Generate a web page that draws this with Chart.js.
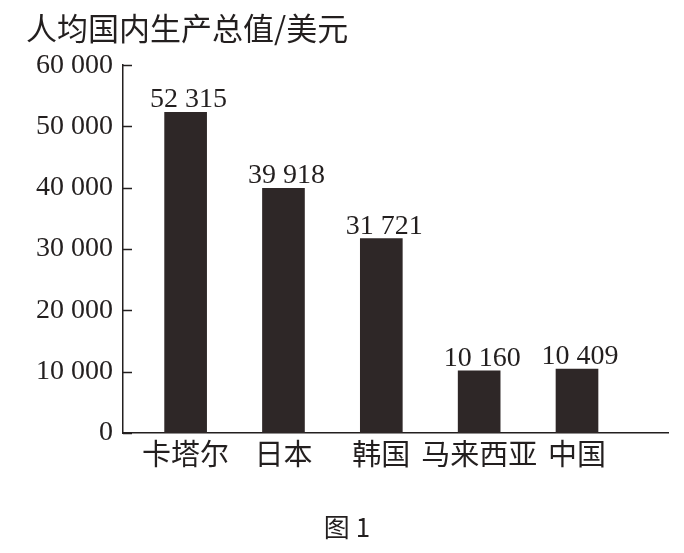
<!DOCTYPE html>
<html><head><meta charset="utf-8">
<script src="https://cdn.jsdelivr.net/npm/chart.js@4"></script>
<style>html,body{margin:0;padding:0;background:#fff;}#wrap{width:684px;height:553px;}</style>
</head><body><div id="wrap"><canvas id="c" width="684" height="553"></canvas></div>
<script>
const categories = ['卡塔尔', '日本', '韩国', '马来西亚', '中国'];
const gdpValues = [52315, 39918, 31721, 10160, 10409];
const yTicks = [0, 10000, 20000, 30000, 40000, 50000, 60000];
const titleText = '人均国内生产总值/美元';
const captionText = '图 1';

const INK = '#231f1f';
const serif = '"Liberation Serif", "DejaVu Serif", serif';
const cjk = '"Noto Sans CJK SC", sans-serif';
const fmt = v => String(v).replace(/\B(?=(\d{3})+(?!\d))/g, ' ');

const innerTicks = {
  id: 'innerTicks',
  afterDraw(chart) {
    const y = chart.scales.y, ctx = chart.ctx;
    ctx.save();
    ctx.strokeStyle = INK; ctx.lineWidth = 1.5;
    yTicks.forEach(t => {
      const py = Math.round(y.getPixelForValue(t)) + 0.5;
      ctx.beginPath(); ctx.moveTo(y.right, py); ctx.lineTo(y.right + 9, py); ctx.stroke();
    });
    ctx.restore();
  }
};
const valueLabels = {
  id: 'valueLabels',
  afterDatasetsDraw(chart) {
    const ctx = chart.ctx, meta = chart.getDatasetMeta(0);
    ctx.save();
    ctx.fillStyle = INK; ctx.font = '28px ' + serif;
    ctx.textAlign = 'center'; ctx.textBaseline = 'alphabetic';
    meta.data.forEach((bar, i) => ctx.fillText(fmt(gdpValues[i]), bar.x + 3, bar.y - 5));
    ctx.restore();
  }
};

new Chart(document.getElementById('c'), {
  type: 'bar',
  data: {
    datasets: [{
      data: gdpValues.map((v, i) => ({x: i, y: v})),
      backgroundColor: '#2e2727',
      borderWidth: 0,
      barThickness: 42
    }]
  },
  options: {
    responsive: false,
    animation: false,
    layout: {padding: {left: 26, right: 16, top: 0, bottom: 0}},
    plugins: {
      legend: {display: false},
      tooltip: {enabled: false},
      title: {display: true, text: titleText, align: 'start', color: INK,
        font: {family: cjk, size: 31, weight: 'normal'}, padding: {top: 10, bottom: 18}},
      subtitle: {display: true, text: captionText, position: 'bottom', color: INK,
        font: {family: cjk, size: 26, weight: 'normal'}, padding: {top: 36, bottom: 10}}
    },
    scales: {
      x: {
        type: 'linear', min: -0.64, max: 4.93, offset: false,
        afterBuildTicks: s => { s.ticks = categories.map((c, i) => ({value: i})); },
        grid: {display: false, drawTicks: false},
        border: {display: true, color: INK, width: 1.5},
        ticks: {color: INK, font: {family: cjk, size: 29}, padding: 4,
          autoSkip: false, maxRotation: 0, minRotation: 0,
          callback: v => categories[v] ?? ''}
      },
      y: {
        min: 0, max: 60000,
        afterBuildTicks: s => { s.ticks = yTicks.map(v => ({value: v})); },
        grid: {display: false, drawTicks: false},
        border: {display: true, color: INK, width: 1.5},
        ticks: {color: INK, font: {family: serif, size: 28}, padding: 10, callback: v => fmt(v)}
      }
    }
  },
  plugins: [innerTicks, valueLabels]
});
</script></body></html>
